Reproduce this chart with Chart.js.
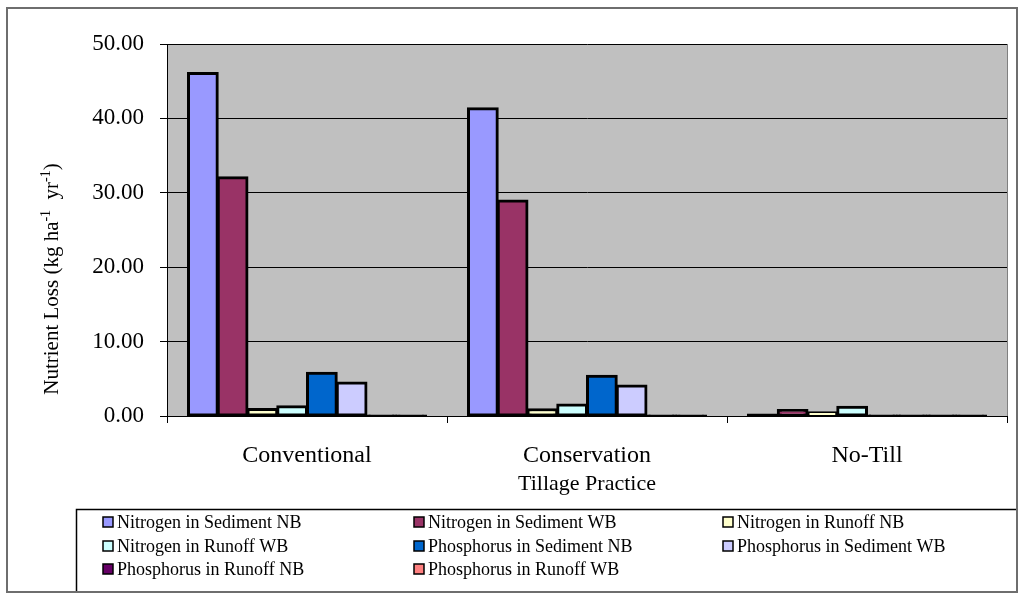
<!DOCTYPE html>
<html>
<head>
<meta charset="utf-8">
<script src="https://cdn.jsdelivr.net/npm/chart.js@4.4.1/dist/chart.umd.min.js"></script>
<style>
  html, body { margin: 0; padding: 0; background: #ffffff; }
  #wrap { position: relative; width: 1024px; height: 610px; }
  canvas { display: block; }
</style>
</head>
<body>
<div id="wrap"><canvas id="chart" width="1024" height="610"></canvas></div>
<script>
// Tillage practices on the category axis
const categories = ['Conventional', 'Conservation', 'No-Till'];

// Nutrient loss per tillage practice (kg ha-1 yr-1)
const nitrogenSedimentNB  = [46.1, 41.35, 0.2];
const nitrogenSedimentWB  = [32.1, 28.95, 0.8];
const nitrogenRunoffNB    = [0.95, 0.9, 0.5];
const nitrogenRunoffWB    = [1.3, 1.55, 1.25];
const phosphorusSedimentNB = [5.8, 5.4, 0.05];
const phosphorusSedimentWB = [4.5, 4.1, 0.05];
const phosphorusRunoffNB  = [0.05, 0.05, 0.05];
const phosphorusRunoffWB  = [0.03, 0.03, 0.03];

const seriesNames = [
  'Nitrogen in Sediment NB', 'Nitrogen in Sediment WB',
  'Nitrogen in Runoff NB', 'Nitrogen in Runoff WB',
  'Phosphorus in Sediment NB', 'Phosphorus in Sediment WB',
  'Phosphorus in Runoff NB', 'Phosphorus in Runoff WB'
];
const seriesValues = [
  nitrogenSedimentNB, nitrogenSedimentWB, nitrogenRunoffNB, nitrogenRunoffWB,
  phosphorusSedimentNB, phosphorusSedimentWB, phosphorusRunoffNB, phosphorusRunoffWB
];
const seriesColors = ['#9999FF', '#993366', '#FFFFCC', '#CCFFFF', '#0066CC', '#CCCCFF', '#660066', '#FF8080'];

// Value axis ticks
const yTickValues = [0, 10, 20, 30, 40, 50];
const yAxisTitle = ['Nutrient Loss (kg ha', '-1', '  yr', '-1', ')'];
const xAxisTitle = 'Tillage Practice';

const SERIF = '"Liberation Serif", "Times New Roman", serif';

const datasets = seriesNames.map((name, i) => ({
  label: name,
  data: seriesValues[i],
  // very thin bars read as their black outline
  backgroundColor: (ctx) => (ctx.raw !== undefined && ctx.raw < 0.3) ? '#000000' : seriesColors[i],
  legendColor: seriesColors[i],
  borderColor: '#000000',
  borderWidth: 3,
  borderSkipped: false,
  inflateAmount: 1,
  categoryPercentage: 0.85,
  barPercentage: 1.0
}));

// Grey plot background and outer frame
const plotBackground = {
  id: 'plotBackground',
  beforeDraw(chart) {
    const { ctx, chartArea: a } = chart;
    ctx.save();
    ctx.fillStyle = '#ffffff';
    ctx.fillRect(0, 0, chart.width, chart.height);
    ctx.fillStyle = '#C0C0C0';
    ctx.fillRect(a.left, a.top, a.right - a.left, a.bottom - a.top);
    ctx.restore();
  },
  afterDraw(chart) {
    const { ctx, chartArea: a } = chart;
    ctx.save();
    ctx.strokeStyle = '#808080';
    ctx.lineWidth = 1;
    ctx.beginPath();
    ctx.moveTo(a.right + 0.5, a.top);
    ctx.lineTo(a.right + 0.5, a.bottom);
    ctx.stroke();
    ctx.restore();
  }
};

// Rotated value-axis title with superscript exponents
const yTitlePlugin = {
  id: 'yTitle',
  afterDraw(chart) {
    const ctx = chart.ctx;
    const base = '21px ' + SERIF;
    const sup = '14px ' + SERIF;
    ctx.save();
    let total = 0;
    const parts = yAxisTitle.map((t, i) => {
      const isSup = (i === 1 || i === 3);
      ctx.font = isSup ? sup : base;
      const w = ctx.measureText(t).width;
      total += w;
      return { t, isSup, w };
    });
    ctx.translate(58, 279);
    ctx.rotate(-Math.PI / 2);
    ctx.fillStyle = '#000000';
    ctx.textBaseline = 'alphabetic';
    ctx.textAlign = 'left';
    let x = -total / 2;
    parts.forEach(p => {
      ctx.font = p.isSup ? sup : base;
      ctx.fillText(p.t, x, p.isSup ? -8 : 0);
      x += p.w;
    });
    ctx.restore();
  }
};

// Boxed three-column legend and chart frame
const boxLegend = {
  id: 'boxLegend',
  afterDraw(chart) {
    const ctx = chart.ctx;
    ctx.save();
    // legend box
    ctx.strokeStyle = '#000000';
    ctx.lineWidth = 1.5;
    ctx.strokeRect(76.5, 509.5, 1100, 83);
    const colX = [103, 414, 723];
    const rowY = [522, 546, 569];
    ctx.font = '18px ' + SERIF;
    ctx.textBaseline = 'middle';
    ctx.textAlign = 'left';
    chart.data.datasets.forEach((ds, i) => {
      const cx = colX[i % 3];
      const cy = rowY[Math.floor(i / 3)];
      ctx.fillStyle = ds.legendColor;
      ctx.fillRect(cx, cy - 5, 10, 10);
      ctx.strokeStyle = '#000000';
      ctx.lineWidth = 1.5;
      ctx.strokeRect(cx, cy - 5, 10, 10);
      ctx.fillStyle = '#000000';
      ctx.fillText(ds.label, cx + 14, cy + 1);
    });
    ctx.restore();
    // white outside the chart frame, then the frame itself
    ctx.save();
    ctx.fillStyle = '#ffffff';
    ctx.fillRect(1018, 0, chart.width - 1018, chart.height);
    ctx.fillRect(0, 593, chart.width, chart.height - 593);
    ctx.strokeStyle = '#6e6e6e';
    ctx.lineWidth = 2;
    ctx.strokeRect(7, 8, 1010, 584);
    ctx.restore();
  }
};

new Chart(document.getElementById('chart'), {
  type: 'bar',
  data: { labels: categories, datasets },
  options: {
    responsive: false,
    animation: false,
    devicePixelRatio: 1,
    layout: { padding: { left: 0, right: 17, top: 44, bottom: 113 } },
    plugins: {
      legend: { display: false },
      tooltip: { enabled: false }
    },
    scales: {
      x: {
        grid: {
          offset: true,
          drawOnChartArea: false,
          drawTicks: true,
          tickLength: 7,
          color: '#000000',
          lineWidth: 1
        },
        border: { display: true, color: '#000000', width: 1 },
        ticks: {
          color: '#000000',
          font: { family: SERIF, size: 24 },
          padding: 18,
          maxRotation: 0
        },
        title: {
          display: true,
          text: xAxisTitle,
          color: '#000000',
          font: { family: SERIF, size: 22 },
          padding: { top: 0, bottom: 0 }
        },
        afterFit(scale) { scale.height = 81; }
      },
      y: {
        min: 0,
        max: 50,
        afterBuildTicks(scale) { scale.ticks = yTickValues.map(v => ({ value: v })); },
        grid: {
          color: '#000000',
          lineWidth: 1,
          drawTicks: true,
          tickLength: 7
        },
        border: { display: true, color: '#000000', width: 1 },
        ticks: {
          color: '#000000',
          font: { family: SERIF, size: 23 },
          padding: 16,
          callback: (v) => Number(v).toFixed(2)
        },
        afterFit(scale) { scale.width = 167; }
      }
    }
  },
  plugins: [plotBackground, yTitlePlugin, boxLegend]
});
</script>
</body>
</html>
